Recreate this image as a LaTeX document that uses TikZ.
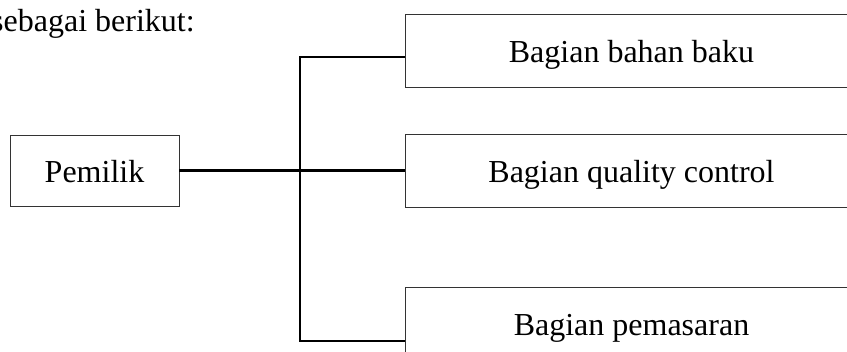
\documentclass[tikz,border=0pt]{standalone}
\usepackage{fontspec}
\setmainfont{Liberation Serif}
\usetikzlibrary{positioning,calc}

\begin{document}
\begin{tikzpicture}[x=1pt, y=-1pt,
  unit/.style={rectangle, draw=black!80, line width=0.9pt,
               font=\fontsize{32}{38}\selectfont, minimum height=73pt,
               text height=25pt, text depth=0pt, inner sep=0pt, align=center},
  lead/.style={font=\fontsize{32}{38}\selectfont, inner sep=0pt},
  link/.style={draw=black, line width=2.2pt},
]
\useasboundingbox (0,0) rectangle (847,352);

\node[lead, anchor=base west] (intro) at (-9,32) {sebagai berikut:};

\node[unit, minimum width=169pt, minimum height=71pt] (owner) at (94.5,170.5) {Pemilik};

\node[unit, minimum width=453pt] (bahan) at (631.5, 50.5) {Bagian bahan baku};
\node[unit, minimum width=453pt] (qc)    at (631.5,170.5) {Bagian quality control};
\node[unit, minimum width=453pt] (pasar) at (631.5,323.5) {Bagian pemasaran};

\coordinate (spine) at (300,170.5);

\draw[link] ([yshift=-6.5pt]bahan.west) -| (spine) |- ([yshift=-17.5pt]pasar.west);
\draw[link] (owner) -- (qc);

\end{tikzpicture}
\end{document}
